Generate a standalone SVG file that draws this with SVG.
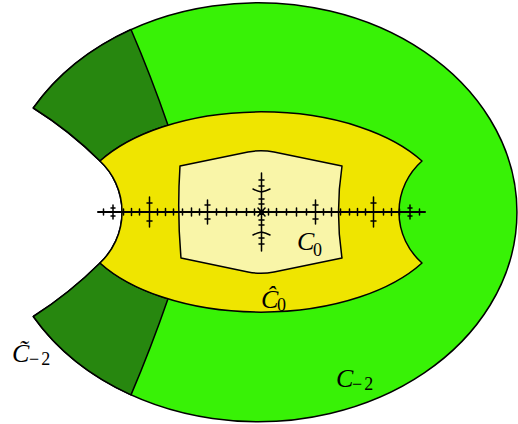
<svg xmlns="http://www.w3.org/2000/svg" width="518" height="424" viewBox="0 0 518 424">
<style>
.r{stroke:#000;stroke-width:1.5;stroke-linejoin:round}
.f{stroke:#000;fill:none;stroke-linecap:round}
.lbl{font-family:"Liberation Serif","DejaVu Serif",serif;font-style:italic;font-size:26px;fill:#000}
.sub{font-family:"Liberation Serif","DejaVu Serif",serif;font-size:18px;fill:#000}
</style>
<rect width="518" height="424" fill="#fff"/>
<g id="green">
<path class="r" fill="#38F206" d="M33.3,108 A259,209.5 0 1 1 33.3,316.5 Q70,293 100,263 A70,70 0 0 0 100,161 Q70,131 33.3,108 Z"/>
</g>
<g id="darkgreen-top">
<path class="r" fill="#27870F" d="M33.3,108 A259,209.5 0 0 1 131,29.5 Q151,76 168,125.2 A187,100 0 0 0 100,161 Q70,131 33.3,108 Z"/>
</g>
<g id="darkgreen-bottom">
<path class="r" fill="#27870F" d="M33.3,316.5 Q70,293 100,263 A187,100 0 0 0 168,298.8 Q151,348 131,394.9 A259,209.5 0 0 1 33.3,316.5 Z"/>
</g>
<g id="yellow">
<path class="r" fill="#EFE500" d="M100,161 A187,100 0 0 1 422,161 A68,68 0 0 0 422,263 A187,100 0 0 1 100,263 A70,70 0 0 0 100,161 Z"/>
</g>
<g id="pale">
<path class="r" fill="#F9F5A8" d="M180,166 L248,152 Q261,149.5 274,152 L342,166 Q335,212 342,258 L274,272 Q261,274.5 248,272 L181,258 Q177,212 180,166 Z"/>
</g>
<g id="fractal">
<path class="f" stroke-width="2" d="M98,212 H425"/>
<path class="f" stroke-width="1.5" d="
M254.5,209 V215 M268.5,209 V215
M246.5,208.5 V215.5 M276.5,208.5 V215.5
M236.5,209 V215 M286.5,209 V215
M226.5,208 V216 M296.5,208 V216
M216.5,209 V215 M306.5,209 V215
M199.5,209 V215 M323.5,209 V215
M191.5,208 V216 M331.5,208 V216
M182.5,209 V215 M340.5,209 V215
M173.5,209 V215 M349.5,209 V215
M165.5,208.5 V215.5 M357.5,208.5 V215.5
M157.5,209 V215 M365.5,209 V215
M139.5,209 V215 M383.5,209 V215
M131.5,208.5 V215.5 M391.5,208.5 V215.5
M123.5,209 V215 M399.5,209 V215
M103.5,209 V215 M419.5,209 V215
M207.5,200 V224 M315.5,200 V224
M205,205 H210 M205,219 H210 M313,205 H318 M313,219 H318
M149.5,197 V227 M373.5,197 V227
M147,203 H152 M147,221 H152 M371,203 H376 M371,221 H376
M113,205 V219 M410,205 V219
M111,208 H115 M111,216 H115 M408,208 H412 M408,216 H412
M261.5,173 V251
M259,180 H264 M259,186 H264 M259,199 H264 M259,204 H264
M259,220 H264 M259,225 H264 M259,238 H264 M259,244 H264
M253,189 Q257,191 261.5,192 Q266,191 270,189
M253,235 Q257,233 261.5,232 Q266,233 270,235
M258,208 L265,216 M265,208 L258,216
"/>
<circle cx="261.5" cy="212" r="2.5" fill="#000"/>
</g>
<g id="labels">
<text class="lbl" x="297" y="250">C</text><text class="sub" x="313" y="256">0</text>
<text class="lbl" x="261" y="308">Ĉ</text><text class="sub" x="277" y="311">0</text>
<text class="lbl" x="12" y="362">C̃</text><text class="sub" x="29" y="365" letter-spacing="2">−2</text>
<text class="lbl" x="336" y="387">C</text><text class="sub" x="352" y="390" letter-spacing="2">−2</text>
</g>
</svg>
